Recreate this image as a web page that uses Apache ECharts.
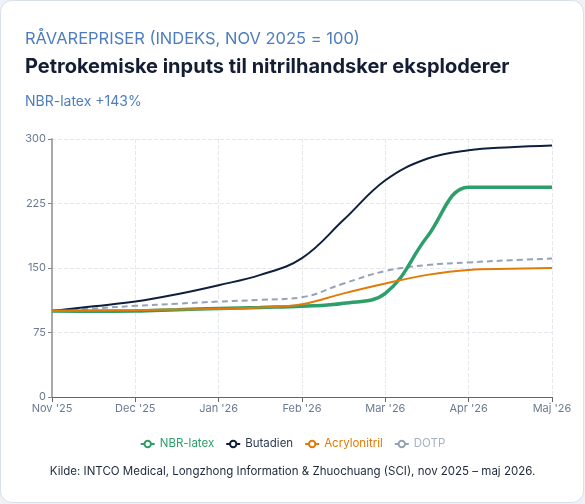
<!DOCTYPE html>
<html>
<head>
<meta charset="utf-8">
<script src="https://cdn.jsdelivr.net/npm/echarts@6/dist/echarts.min.js"></script>
<style>
  html, body { margin: 0; padding: 0; background: #eef2f6; }
  #card {
    position: absolute; left: 0; top: 0; width: 582px; height: 501px;
    background: #fff; border: 1px solid #d9e0e8; border-radius: 12px;
  }
  #main { position: absolute; left: 0; top: 0; width: 585px; height: 504px; }
</style>
</head>
<body>
<div id="card"></div>
<div id="main"></div>
<script>
// month tick labels (x = 0..6)
var monthLabels = ["Nov '25", "Dec '25", "Jan '26", "Feb '26", "Mar '26", "Apr '26", "Maj '26"];

// half-month readings
var xPos = [0, 0.5, 1, 1.5, 2, 2.5, 3, 3.5, 4, 4.5, 5, 5.5, 6];

// index values, Nov 2025 = 100
var nbrLatex     = [100, 99.8, 100, 101.5, 103, 104.2, 105.5, 109, 120.5, 186, 244, 244, 244];
var butadien     = [100, 105.5, 111, 119.5, 130, 142, 161.5, 206, 252, 277, 287, 290.5, 292.5];
var acrylonitril = [100, 100.5, 101, 101.8, 102.5, 104, 107.8, 120.5, 132, 142, 147.8, 149, 150];
var dotp         = [100, 103, 106, 108.5, 111, 113, 116, 132, 146.5, 153.5, 156.5, 159, 161];

var yTicks = [0, 75, 150, 225, 300];

function pairs(vals) {
  return xPos.map(function (x, i) { return [x, vals[i]]; });
}

var chart = echarts.init(document.getElementById('main'), null, { renderer: 'canvas' });

var FONT = 'Inter, "Noto Sans", sans-serif';

function lineSeries(name, vals, color, width, z, dash) {
  return {
    name: name, type: 'line', data: pairs(vals),
    smooth: 0.4,
    showSymbol: false, symbol: 'emptyCircle', z: z,
    itemStyle: { color: color },
    lineStyle: { color: color, width: width, type: dash || 'solid' }
  };
}

chart.setOption({
  animation: false,
  textStyle: { fontFamily: FONT },
  title: [
    {
      text: 'RÅVAREPRISER (INDEKS, NOV 2025 = 100)',
      left: 20, top: 26,
      textStyle: { fontFamily: FONT, fontSize: 16.5, fontWeight: 'normal', color: '#4d7dbf' }
    },
    {
      text: 'Petrokemiske inputs til nitrilhandsker eksploderer',
      left: 20, top: 52,
      textStyle: { fontFamily: FONT, fontSize: 20, fontWeight: 'bold', color: '#141d33' }
    },
    {
      text: 'NBR-latex +143%',
      left: 20, top: 90,
      textStyle: { fontFamily: FONT, fontSize: 14, fontWeight: 'normal', color: '#4d7dbf' }
    },
    {
      text: 'Kilde: INTCO Medical, Longzhong Information & Zhuochuang (SCI), nov 2025 \u2013 maj 2026.',
      left: 'center', top: 461,
      textStyle: { fontFamily: FONT, fontSize: 11.5, fontWeight: 'normal', color: '#1e293b' }
    }
  ],
  legend: {
    top: 433,
    left: 'center',
    itemWidth: 14,
    itemHeight: 8,
    itemGap: 11,
    textStyle: { fontFamily: FONT, fontSize: 11.5 },
    data: [
      { name: 'NBR-latex', textStyle: { color: '#2e9e6a' } },
      { name: 'Butadien', textStyle: { color: '#2d3a52' } },
      { name: 'Acrylonitril', textStyle: { color: '#e07b09' } },
      { name: 'DOTP', textStyle: { color: '#a7b2c4' } }
    ]
  },
  grid: { left: 52, right: 33, top: 139, bottom: 107 },
  xAxis: {
    type: 'value',
    min: 0, max: 6, interval: 1,
    axisLine: { lineStyle: { color: '#666', width: 1 } },
    axisTick: { show: true, length: 5, lineStyle: { color: '#666' } },
    axisLabel: {
      color: '#6b7a90', fontSize: 11, margin: 6,
      formatter: function (v) { return monthLabels[Math.round(v)] || ''; }
    },
    splitLine: { show: true, lineStyle: { color: '#e4e7ec', type: 'dashed' } }
  },
  yAxis: {
    type: 'value',
    min: yTicks[0], max: yTicks[yTicks.length - 1], interval: 75,
    axisLine: { show: true, lineStyle: { color: '#aaaaaa', width: 2 } },
    axisTick: { show: true, length: 4, lineStyle: { color: '#888' } },
    axisLabel: { color: '#6b7a90', fontSize: 11, margin: 6 },
    splitLine: { show: true, lineStyle: { color: '#e4e7ec', type: 'dashed' } }
  },
  series: [
    lineSeries('NBR-latex', nbrLatex, '#2e9e6a', 3.5, 4),
    lineSeries('Butadien', butadien, '#0f1f3d', 2, 3),
    lineSeries('Acrylonitril', acrylonitril, '#e07b09', 2, 5),
    lineSeries('DOTP', dotp, '#94a3b8', 2, 2, [6, 4])
  ]
});
</script>
</body>
</html>
